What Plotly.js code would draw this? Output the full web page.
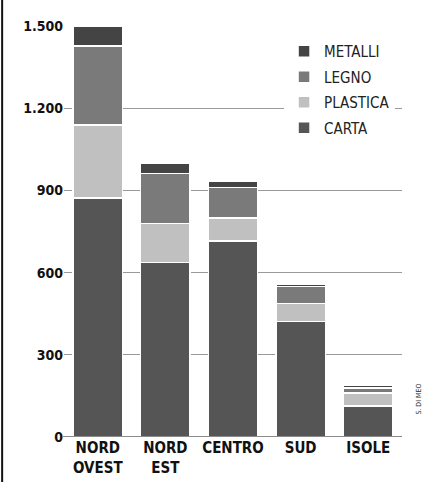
<!DOCTYPE html>
<html>
<head>
<meta charset="utf-8">
<script src="https://cdn.plot.ly/plotly-3.0.1.min.js"></script>
<style>html,body{margin:0;padding:0;background:#fff;}#chart{width:432px;height:482px;}</style>
</head>
<body>
<div id="chart"></div>
<script>
var categories = ["NORD<br>OVEST", "NORD<br>EST", "CENTRO", "SUD", "ISOLE"];
var carta    = [872, 636, 715, 421, 113];
var plastica = [267, 144, 85, 67, 47];
var legno    = [288, 182, 111, 61, 18];
var metalli  = [73, 36, 21, 9, 12];
var tickVals = [0, 300, 600, 900, 1200, 1500];
var tickText = ["0", "300", "600", "900", "1.200", "1.500"];
var credit = "S. DI MEO";

var FONT = "'DejaVu Sans Condensed', 'Liberation Sans Narrow', 'Liberation Sans', sans-serif";
function tr(name, vals, color, rank) {
  return {
    type: "bar", name: name, x: categories, y: vals, legendgroup: name, legendrank: rank,
    marker: {color: color, line: {color: "#ffffff", width: 1.5}},
    hoverinfo: "skip"
  };
}
var data = [
  tr("CARTA", carta, "#555555", 4),
  tr("PLASTICA", plastica, "#c0c0c0", 3),
  tr("LEGNO", legno, "#7a7a7a", 2),
  tr("METALLI", metalli, "#444444", 1)
];
var layout = {
  width: 432, height: 482,
  margin: {l: 64, r: 30, t: 26, b: 45},
  paper_bgcolor: "#fff", plot_bgcolor: "#fff",
  barmode: "stack", bargap: 0.27,
  showlegend: true,
  legend: {
    traceorder: "grouped", tracegroupgap: 3,
    x: 0.651, y: 0.978, xanchor: "left", yanchor: "top",
    bgcolor: "#fff", font: {family: FONT, size: 15, color: "#222"},
    itemclick: false
  },
  xaxis: {
    type: "category", range: [-0.5, 4.5], showgrid: false, zeroline: false,
    showline: false, ticks: "",
    tickfont: {family: FONT, size: 15, color: "#111", weight: "bold"}
  },
  yaxis: {
    range: [0, 1500], tickvals: tickVals, ticktext: tickText,
    showgrid: true, gridcolor: "#9a9a9a", gridwidth: 1,
    zeroline: false, showline: false, ticks: "",
    tickfont: {family: FONT, size: 14, color: "#111", weight: "bold"}
  },
  shapes: [
    {type: "line", xref: "paper", yref: "y", x0: -0.006, x1: 1, y0: 0, y1: 0,
     line: {color: "#8c8c8c", width: 2}, layer: "above"},
    {type: "line", xref: "paper", yref: "paper", x0: -0.183, x1: -0.183, y0: -0.11, y1: 1.07,
     line: {color: "#111", width: 2}}
  ],
  annotations: [
    {text: credit, xref: "paper", yref: "y", x: 1.068, y: 140, textangle: -90,
     showarrow: false, font: {family: FONT, size: 7, color: "#333"}}
  ]
};
Plotly.newPlot("chart", data, layout, {staticPlot: true});
</script>
</body>
</html>
